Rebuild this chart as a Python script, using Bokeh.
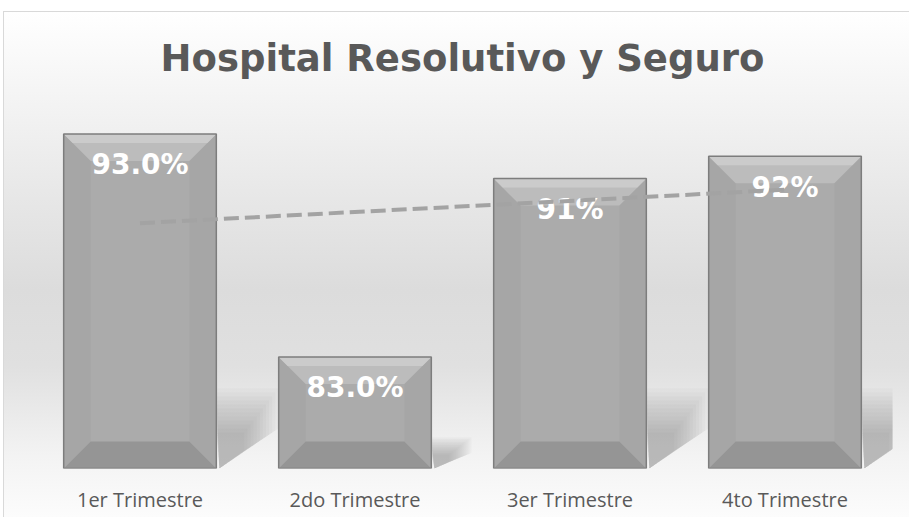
from bokeh.plotting import figure
from bokeh.models import Range1d, FixedTicker
from bokeh.core.properties import value
from bokeh.embed import file_html
from bokeh.resources import INLINE
import numpy as np

# ---------------- data ----------------
categories = ["1er Trimestre", "2do Trimestre", "3er Trimestre", "4to Trimestre"]
values = [93.0, 83.0, 91.0, 92.0]
labels = ["93.0%", "83.0%", "91%", "92%"]
title_text = "Hospital Resolutivo y Seguro"

# ---------------- layout ----------------
Y0, Y1 = 78.0, 94.5
W, H = 906, 506
ML, MR, MT, MB = 28, 18, 88, 50
frame_w = W - ML - MR
frame_h = H - MT - MB
px_x = 4.0 / frame_w
px_y = (Y1 - Y0) / frame_h

xs = np.arange(1, len(categories) + 1, dtype=float)

p = figure(width=W, height=H, output_backend="svg", toolbar_location=None,
           x_range=Range1d(0.5, 4.5), y_range=Range1d(Y0, Y1),
           min_border_left=ML, min_border_right=MR, min_border_top=MT,
           min_border_bottom=MB, tools="")
p.styles = {
    "margin-left": "3px",
    "margin-top": "11px",
    "border-left": "1px solid #d9d9d9",
    "border-top": "1px solid #d9d9d9",
    "background": "linear-gradient(to bottom, #ffffff 0%, #f4f4f4 17%, #e7e7e7 37%, #dcdcdc 55%, #e0e0e0 70%, #f3f3f3 88%, #fcfcfc 100%)",
}
p.background_fill_alpha = 0
p.border_fill_alpha = 0
p.outline_line_color = None
p.grid.visible = False
p.yaxis.visible = False

# title
p.title.text = title_text
p.title.align = "center"
p.title.vertical_align = "top"
p.title.text_font = "DejaVu Sans"
p.title.text_font_style = "bold"
p.title.text_font_size = "37px"
p.title.text_color = "#595959"
p.title.standoff = 38

# x axis
p.xaxis.ticker = FixedTicker(ticks=list(xs))
p.xaxis.major_label_overrides = {float(x): c for x, c in zip(xs, categories)}
p.xaxis.axis_line_color = None
p.xaxis.major_tick_line_color = None
p.xaxis.minor_tick_line_color = None
p.xaxis.major_tick_in = 0
p.xaxis.major_tick_out = 0
p.xaxis.major_label_standoff = 17
p.xaxis.major_label_text_font = "Open Sans"
p.xaxis.major_label_text_font_size = "20px"
p.xaxis.major_label_text_color = "#595959"

hw = 0.355
bx = 27 * px_x
by = 27 * px_y

# soft floor shadows (many faint layers), size grows with bar height up to a cap
n_layers = 12
for k in range(n_layers):
    shx, shy = [], []
    s = 1.0 - 0.05 * k
    for x, v in zip(xs, values):
        bar_px = (v - Y0) / px_y
        sh_h = min(80.0, 0.28 * bar_px)
        sh_w = min(62.0, 0.36 * bar_px)
        top = Y0 + sh_h * s * px_y
        mid = Y0 + sh_h * 0.5 * s * px_y
        R = x + hw
        shx.append([R, R + sh_w * s * px_x, R + sh_w * s * px_x, R + 3 * px_x])
        shy.append([top, top, mid, Y0])
    p.patches(shx, shy, fill_color="#6e6e6e", fill_alpha=0.04, line_color=None)

# bars with bevel
top_x, top_y, bot_x, bot_y, side_x, side_y, hi_x, hi_y = [], [], [], [], [], [], [], []
for x, v in zip(xs, values):
    L, R, T, B = x - hw, x + hw, v, Y0
    top_x.append([L, R, R - bx, L + bx]); top_y.append([T, T, T - by, T - by])
    bot_x.append([L, R, R - bx, L + bx]); bot_y.append([B, B, B + by, B + by])
    side_x.append([L, L + bx, L + bx, L]); side_y.append([T, T - by, B + by, B])
    side_x.append([R, R - bx, R - bx, R]); side_y.append([T, T - by, B + by, B])
    h = 9
    hi_x.append([L, R, R - h * px_x, L + h * px_x]); hi_y.append([T, T, T - h * px_y, T - h * px_y])

p.vbar(x=xs, top=values, bottom=Y0, width=2 * hw, fill_color="#ababab", line_color=None)
p.patches(side_x, side_y, fill_color="#a6a6a6", line_color=None)
p.patches(top_x, top_y, fill_color="#bcbcbc", line_color=None)
p.patches(hi_x, hi_y, fill_color="#cbcbcb", line_color=None)
p.patches(bot_x, bot_y, fill_color="#959595", line_color=None)
p.vbar(x=xs, top=values, bottom=Y0, width=2 * hw, fill_color=None,
       line_color="#7d7d7d", line_width=1.5)

# data labels
p.text(x=xs, y=values, text=labels, text_color="white",
       text_font=value("DejaVu Sans"), text_font_style="bold",
       text_font_size="28px", text_align="center", text_baseline="middle",
       y_offset=31)

# linear trend line
coef = np.polyfit(xs, values, 1)
trend = np.polyval(coef, xs)
p.line(x=[xs[0], xs[-1]], y=[trend[0], trend[-1]], line_color="#a3a3a3",
       line_width=4, line_dash="15 6")

open("out.html", "w").write(file_html(p, INLINE))
